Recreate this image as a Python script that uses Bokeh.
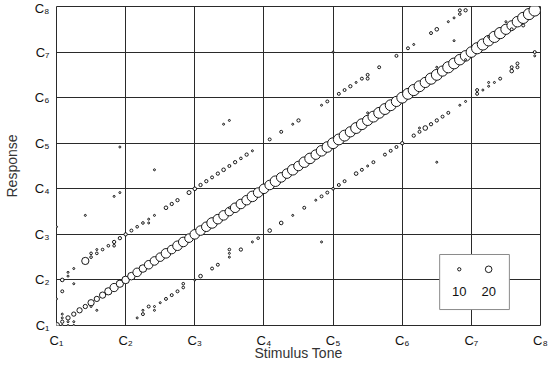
from bokeh.plotting import figure
from bokeh.models import Range1d, FixedTicker, ColumnDataSource
from bokeh.core.properties import value
from bokeh.embed import file_html
from bokeh.resources import INLINE

# ---------------- data ----------------
octave_ticks = [0, 12, 24, 36, 48, 60, 72, 84]
octave_labels = ["C\u2081", "C\u2082", "C\u2083", "C\u2084", "C\u2085", "C\u2086", "C\u2087", "C\u2088"]

# correct responses (response == stimulus), count per stimulus semitone (0 = C1)
diag_stim = list(range(84))
diag_count = [19, 10, 13, 13, 16, 13, 19, 16, 19, 22, 25, 22,
              23, 23, 26, 23, 26, 26, 26, 29, 26, 29, 29, 26,
              29, 29, 29, 32, 29, 29, 26, 29, 29, 29, 32, 29,
              29, 29, 32, 29, 29, 32, 29, 32, 32, 29, 32, 32,
              33, 33, 33, 31, 33, 33, 31, 33, 33, 33, 33, 31,
              33, 33, 34, 33, 31, 34, 33, 31, 34, 33, 32, 32,
              32, 34, 34, 32, 34, 34, 31, 29, 32, 34, 34, 35]

# off-diagonal responses
off_stim = [1, 2, 2, 3, 5, 6, 6, 7, 7, 8, 9, 10, 10, 11, 12, 13, 14, 15, 16, 16, 17,
            19, 20, 21, 23, 24, 25, 26, 27, 28, 29, 30, 31, 32, 33, 34,
            37, 39, 41, 42, 46, 47, 49, 50, 51, 52, 53, 54, 54, 56,
            59, 61, 62, 65, 66, 68, 69, 70, 70, 71,
            0, 5, 10, 11, 17, 29, 30, 48, 11, 0, 1, 3,
            1, 1, 2, 2, 3, 3, 1, 6, 7, 30, 54, 66, 69, 71, 75, 78, 79, 81,
            14, 15, 15, 16, 17, 17, 18, 19, 20, 21, 22, 22, 24, 25, 27, 28,
            30, 30, 30, 32, 34, 35, 37, 39, 41, 43, 45, 46, 47, 48, 49, 50,
            52, 53, 54, 55, 57, 58, 59, 60, 62, 63, 63, 64, 65, 66, 67, 68,
            70, 71, 73, 73, 74, 75, 75, 76, 77, 79, 79, 80, 80, 83, 83,
            46, 66]
off_resp = [12, 13, 14, 15, 17, 18, 19, 19, 20, 20, 21, 21, 22, 23, 24, 25, 26, 27, 27, 28, 29,
            31, 32, 33, 35, 36, 37, 38, 39, 40, 41, 42, 43, 44, 45, 46,
            49, 51, 53, 54, 58, 59, 61, 62, 63, 64, 65, 65, 66, 68,
            71, 73, 74, 77, 78, 80, 81, 82, 83, 83,
            26, 29, 34, 35, 41, 53, 54, 72, 47, 7, 9, 11,
            3, 2, 1, 0, 1, 0, 0, 5, 4, 31, 56, 68, 75, 70, 76, 80, 78, 79,
            2, 3, 4, 5, 4, 5, 6, 7, 8, 9, 10, 11, 12, 13, 15, 16,
            18, 19, 20, 20, 22, 23, 25, 27, 29, 31, 33, 34, 35, 36, 37, 38,
            40, 41, 42, 43, 45, 46, 47, 48, 50, 51, 52, 52, 53, 54, 55, 56,
            58, 59, 61, 62, 62, 63, 64, 64, 65, 67, 68, 68, 69, 71, 72,
            22, 43]
off_count = [11, 6, 6, 6, 22, 8, 8, 8, 6, 8, 8, 8, 10, 10, 10, 9, 8, 8, 6, 6, 6,
             11, 10, 10, 12, 11, 10, 10, 9, 10, 11, 9, 10, 8, 10, 6,
             9, 9, 6, 10, 6, 9, 9, 9, 10, 6, 9, 9, 9, 9,
             9, 9, 6, 9, 11, 6, 6, 8, 9, 10,
             6, 6, 6, 6, 6, 6, 6, 6, 6, 6, 9, 6,
             6, 6, 6, 6, 6, 6, 6, 6, 6, 6, 6, 6, 6, 6, 6, 6, 9, 9,
             6, 9, 6, 9, 6, 6, 6, 9, 9, 9, 8, 8, 6, 11, 9, 9,
             6, 6, 8, 10, 6, 8, 11, 11, 6, 9, 6, 9, 9, 8, 9, 9,
             11, 9, 6, 9, 9, 9, 9, 10, 10, 9, 6, 14, 10, 10, 9, 9,
             6, 6, 9, 9, 6, 6, 6, 6, 9, 11, 9, 9, 9, 6, 9,
             6, 6]

legend_counts = [10, 20]
legend_labels = ["10", "20"]

# ---------------- styling ----------------
SCALE = 0.33       # marker diameter (px) per count
FONT = "Liberation Sans"
GRID = "#2a2a2a"

p = figure(frame_width=484, frame_height=319, output_backend="svg", toolbar_location=None,
           x_range=Range1d(0, 84), y_range=Range1d(0, 84),
           min_border_left=48, min_border_right=8, min_border_top=6, min_border_bottom=30)
p.background_fill_color = "white"
p.border_fill_color = "white"
p.outline_line_color = GRID
p.outline_line_width = 1

for ax in (p.xaxis[0], p.yaxis[0]):
    ax.ticker = FixedTicker(ticks=octave_ticks)
    ax.major_label_overrides = {t: l for t, l in zip(octave_ticks, octave_labels)}
    ax.axis_line_color = None
    ax.major_tick_line_color = None
    ax.minor_tick_line_color = None
    ax.major_tick_out = 0
    ax.major_tick_in = 0
    ax.major_label_text_font = FONT
    ax.major_label_text_font_size = "13px"
    ax.major_label_text_color = "#111111"
    ax.axis_label_text_font = FONT
    ax.axis_label_text_font_style = "normal"
    ax.axis_label_text_color = "#333333"
    ax.axis_label_text_font_size = "14px"

p.xaxis.axis_label = "Stimulus Tone"
p.yaxis.axis_label = "Response"
p.xaxis.major_label_standoff = 7
p.yaxis.major_label_standoff = 7
p.xaxis.axis_label_standoff = -6
p.yaxis.axis_label_standoff = 12

for g in (p.xgrid[0], p.ygrid[0]):
    g.ticker = FixedTicker(ticks=octave_ticks)
    g.grid_line_color = GRID
    g.grid_line_alpha = 1.0
    g.grid_line_width = 1

diag_src = ColumnDataSource(dict(x=diag_stim, y=diag_stim,
                                 s=[c * SCALE for c in diag_count]))
p.scatter("x", "y", size="s", source=diag_src, marker="circle",
          fill_color="white", line_color="black", line_width=0.9)

off_src = ColumnDataSource(dict(x=off_stim, y=off_resp,
                                s=[c * SCALE for c in off_count]))
p.scatter("x", "y", size="s", source=off_src, marker="circle",
          fill_color="white", line_color="black", line_width=0.9)

# ---------------- size legend (bottom right) ----------------
lx0, lx1, ly0, ly1 = 66.5, 78.6, 4.2, 18.7
p.quad(left=[lx0], right=[lx1], bottom=[ly0], top=[ly1],
       fill_color="white", line_color="#8a8a8a", line_width=1)
leg_x = [69.9, 75.0]
leg_src = ColumnDataSource(dict(x=leg_x, y=[14.8, 14.8],
                                s=[c * SCALE for c in legend_counts],
                                t=legend_labels, ty=[9.0, 9.0]))
p.scatter("x", "y", size="s", source=leg_src, marker="circle",
          fill_color="white", line_color="black", line_width=0.9)
p.text("x", "ty", text="t", source=leg_src, text_align="center",
       text_baseline="middle", text_font=value(FONT), text_font_size="13px",
       text_color="#111111")

open("out.html", "w").write(file_html(p, INLINE))
